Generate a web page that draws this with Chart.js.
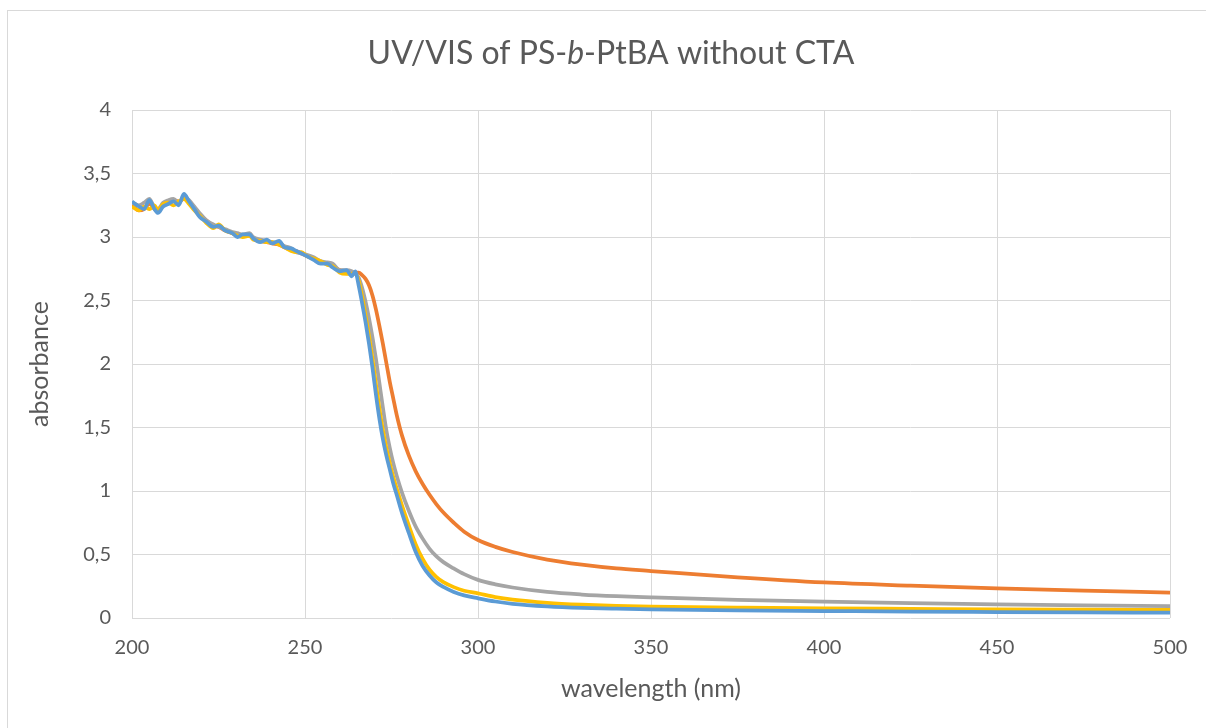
<!DOCTYPE html>
<html>
<head>
<meta charset="utf-8">
<title>UV/VIS of PS-b-PtBA without CTA</title>
<script src="https://cdn.jsdelivr.net/npm/chart.js@4.4.0/dist/chart.umd.min.js"></script>
<style>
  html, body { margin: 0; padding: 0; background: #fff; }
  #wrap { position: relative; width: 1206px; height: 728px; }
</style>
</head>
<body>
<div id="wrap"><canvas id="uvChart"></canvas></div>
<script>
// wavelength grid (nm), shared by all four spectra
const wavelengths = [200, 202, 203.5, 205, 206.5, 207.5, 209, 210.5, 212, 213.5,
  215, 216.5, 218, 219.5, 221.5, 223.5, 225, 227, 229, 230.5,
  232, 234, 235, 237, 239, 240.5, 242.5, 244, 246, 247.5,
  249, 250.5, 252.5, 254.5, 256.5, 258, 260, 262, 263.5, 264.5,
  265.5, 266.5, 267.5, 268.5, 269.5, 270.5, 271.5, 272.5, 273.5, 274.5,
  275.5, 276.5, 278, 280, 282, 284, 286, 288, 290, 293,
  296, 300, 305, 310, 320, 330, 340, 350, 375, 400,
  425, 450, 475, 500];

const absBlue = [3.28, 3.24, 3.22, 3.29, 3.22, 3.19, 3.24, 3.26, 3.28, 3.25,
  3.34, 3.28, 3.22, 3.16, 3.12, 3.08, 3.09, 3.05, 3.03, 3.00,
  3.02, 3.02, 2.99, 2.96, 2.98, 2.95, 2.97, 2.92, 2.91, 2.89,
  2.87, 2.85, 2.82, 2.79, 2.79, 2.76, 2.73, 2.74, 2.69, 2.73,
  2.62, 2.48, 2.33, 2.16, 1.97, 1.76, 1.57, 1.41, 1.28, 1.17,
  1.06, 0.97, 0.83, 0.67, 0.52, 0.41, 0.335, 0.28, 0.245, 0.205,
  0.178, 0.155, 0.13, 0.112, 0.092, 0.08, 0.073, 0.068, 0.06, 0.055,
  0.05, 0.047, 0.044, 0.042];

const absYellow = [3.24, 3.21, 3.24, 3.22, 3.25, 3.21, 3.26, 3.27, 3.25, 3.28,
  3.30, 3.26, 3.21, 3.17, 3.11, 3.07, 3.10, 3.05, 3.03, 3.01,
  3.00, 3.01, 2.98, 2.97, 2.96, 2.96, 2.94, 2.92, 2.89, 2.88,
  2.88, 2.85, 2.83, 2.81, 2.78, 2.77, 2.72, 2.71, 2.71, 2.72,
  2.66, 2.53, 2.38, 2.22, 2.04, 1.84, 1.65, 1.48, 1.34, 1.22,
  1.11, 1.02, 0.89, 0.73, 0.58, 0.465, 0.38, 0.322, 0.282, 0.243,
  0.215, 0.194, 0.165, 0.145, 0.12, 0.105, 0.095, 0.089, 0.082, 0.076,
  0.072, 0.068, 0.065, 0.063];

const absGray = [3.27, 3.25, 3.27, 3.30, 3.23, 3.22, 3.27, 3.29, 3.30, 3.27,
  3.31, 3.29, 3.24, 3.19, 3.13, 3.10, 3.08, 3.06, 3.04, 3.03,
  3.02, 3.03, 3.00, 2.98, 2.97, 2.96, 2.95, 2.93, 2.91, 2.88,
  2.87, 2.86, 2.84, 2.81, 2.80, 2.79, 2.74, 2.74, 2.73, 2.71,
  2.68, 2.60, 2.49, 2.36, 2.21, 2.04, 1.85, 1.66, 1.48, 1.34,
  1.22, 1.12, 0.99, 0.845, 0.72, 0.625, 0.545, 0.485, 0.44, 0.39,
  0.345, 0.30, 0.265, 0.24, 0.205, 0.185, 0.172, 0.163, 0.143, 0.128,
  0.117, 0.108, 0.10, 0.094];

const absOrange = [3.25, 3.21, 3.22, 3.26, 3.22, 3.20, 3.25, 3.28, 3.29, 3.28,
  3.30, 3.28, 3.23, 3.18, 3.13, 3.09, 3.08, 3.05, 3.03, 3.02,
  3.01, 3.01, 2.99, 2.97, 2.96, 2.95, 2.94, 2.92, 2.90, 2.89,
  2.87, 2.85, 2.83, 2.80, 2.79, 2.77, 2.74, 2.73, 2.72, 2.72,
  2.72, 2.70, 2.67, 2.62, 2.54, 2.43, 2.30, 2.16, 2.01, 1.86,
  1.73, 1.60, 1.44, 1.28, 1.155, 1.055, 0.97, 0.895, 0.83, 0.75,
  0.68, 0.614, 0.56, 0.52, 0.46, 0.42, 0.39, 0.37, 0.32, 0.28,
  0.255, 0.234, 0.215, 0.20];

const titleParts = [['UV/VIS of PS-', 'normal'], ['b', 'italic'], ['-PtBA without CTA', 'normal']];
const xTitle = 'wavelength (nm)';
const yTitle = 'absorbance';

const textColor = '#595959';
const gridColor = '#d9d9d9';
const fontFamily = 'Lato, "Noto Sans", sans-serif';

function toPoints(ys) {
  return wavelengths.map((w, i) => ({ x: w, y: ys[i] }));
}

function series(values, color) {
  return {
    data: toPoints(values),
    borderColor: color,
    backgroundColor: color,
    borderWidth: 3.75,
    borderJoinStyle: 'round',
    pointRadius: 0,
    fill: false,
    cubicInterpolationMode: 'monotone',
  };
}

// title with an italic "b", drawn as three runs of text
const richTitle = {
  id: 'richTitle',
  afterDraw(chart) {
    const ctx = chart.ctx;
    ctx.save();
    ctx.fillStyle = textColor;
    ctx.textBaseline = 'alphabetic';
    let total = 0;
    titleParts.forEach(p => {
      ctx.font = p[1] + ' 32px ' + fontFamily;
      total += ctx.measureText(p[0]).width;
    });
    let x = 611 - total / 2;
    titleParts.forEach(p => {
      ctx.font = p[1] + ' 32px ' + fontFamily;
      ctx.fillText(p[0], x, 64);
      x += ctx.measureText(p[0]).width;
    });
    ctx.restore();
  },
};

// thin frame round the chart
const frame = {
  id: 'frame',
  beforeDraw(chart) {
    const ctx = chart.ctx;
    ctx.save();
    ctx.strokeStyle = gridColor;
    ctx.lineWidth = 1;
    ctx.strokeRect(7.5, 10.5, 1400, 900);
    ctx.restore();
  },
};

const config = {
  type: 'line',
  data: {
    datasets: [
      series(absBlue, '#5b9bd5'),
      series(absYellow, '#ffc000'),
      series(absGray, '#a5a5a5'),
      series(absOrange, '#ed7d31'),
    ],
  },
  options: {
    responsive: true,
    maintainAspectRatio: false,
    animation: false,
    layout: {
      padding: { top: 110, right: 36, bottom: 20, left: 21 },
    },
    scales: {
      x: {
        type: 'linear',
        min: 200,
        max: 500,
        afterFit: (scale) => { scale.height = 90; },
        grid: { color: gridColor, drawTicks: false },
        border: { display: false },
        ticks: {
          stepSize: 50,
          padding: 18,
          color: textColor,
          font: { family: fontFamily, size: 20 },
        },
        title: {
          display: true,
          text: xTitle,
          color: textColor,
          font: { family: fontFamily, size: 25 },
        },
      },
      y: {
        min: 0,
        max: 4,
        afterFit: (scale) => { scale.width = 111; },
        grid: { color: gridColor, drawTicks: false },
        border: { display: false },
        ticks: {
          stepSize: 0.5,
          padding: 21,
          color: textColor,
          font: { family: fontFamily, size: 20 },
          callback: (value) => value.toString().replace('.', ','),
        },
        title: {
          display: true,
          text: yTitle,
          color: textColor,
          font: { family: fontFamily, size: 25 },
        },
      },
    },
    plugins: {
      legend: { display: false },
      tooltip: { enabled: false },
    },
  },
  plugins: [frame, richTitle],
};

const uvChart = new Chart(document.getElementById('uvChart'), config);
</script>
</body>
</html>
